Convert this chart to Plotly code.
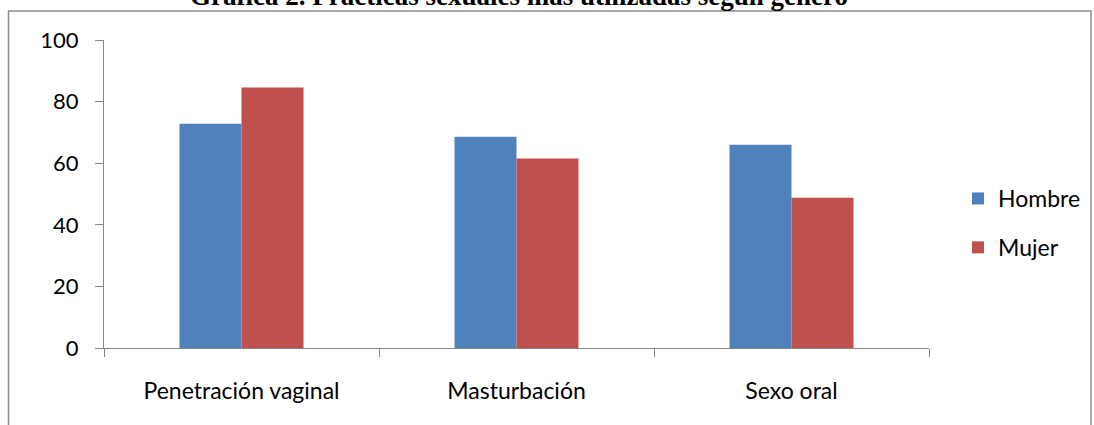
import plotly.graph_objects as go

categories = ["Penetración vaginal", "Masturbación", "Sexo oral"]
hombre = [72.8, 68.6, 66.0]
mujer = [84.6, 61.5, 48.8]
y_ticks = [0, 20, 40, 60, 80, 100]
title_text = "Gráfica 2. Prácticas sexuales más utilizadas según género"

W, H = 1094, 425
L, R, T, B = 104, 165, 40, 77
pw = W - L - R
ph = H - T - B

def px_x(p):
    return (p - L) / pw

def px_y(p):
    return (H - B - p) / ph

fig = go.Figure()
fig.add_trace(go.Bar(x=categories, y=hombre, name="Hombre",
                     marker=dict(color="#4F81BD", line=dict(width=0)),
                     legendgroup="h"))
fig.add_trace(go.Bar(x=categories, y=mujer, name="Mujer",
                     marker=dict(color="#C0504D", line=dict(width=0)),
                     legendgroup="m"))

axis_color = "#868686"
font_family = "Lato"

fig.update_layout(
    width=W, height=H,
    margin=dict(l=L, r=R, t=T, b=B, autoexpand=False),
    paper_bgcolor="white", plot_bgcolor="white",
    barmode="group", bargap=0.549, bargroupgap=0,
    font=dict(family=font_family, size=22, color="#000000"),
    showlegend=True,
    legend=dict(x=px_x(958), y=px_y(177), xanchor="left", yanchor="top",
                font=dict(family=font_family, size=23, color="#000000"),
                traceorder="grouped", tracegroupgap=16,
                bgcolor="rgba(0,0,0,0)", itemwidth=30),
    xaxis=dict(showline=True, linecolor=axis_color, linewidth=1,
               ticks="outside", tickson="boundaries", ticklen=8,
               tickcolor=axis_color, tickwidth=1,
               showgrid=False, zeroline=False,
               ticklabelstandoff=22,
               tickfont=dict(family=font_family, size=23, color="#000000")),
    yaxis=dict(range=[0, 100], tickvals=y_ticks, showline=True,
               linecolor=axis_color, linewidth=1,
               ticks="outside", ticklen=8, tickcolor=axis_color, tickwidth=1,
               showgrid=False, zeroline=False,
               ticklabelstandoff=12,
               tickfont=dict(family=font_family, size=22, color="#000000")),
)

fig.add_shape(type="rect", xref="paper", yref="paper",
              x0=px_x(8.5), x1=px_x(1091), y0=px_y(440), y1=px_y(11),
              line=dict(color="#8c8c8c", width=1.5), fillcolor="rgba(0,0,0,0)",
              layer="below")

fig.add_annotation(text="<b>" + title_text + "</b>", xref="paper", yref="paper",
                   x=px_x(518.5), y=px_y(13), xanchor="center", yanchor="bottom",
                   showarrow=False,
                   font=dict(family="Liberation Serif", size=27, color="#000000"))

fig.write_html("out.html", config={"displayModeBar": False},
               post_script="document.body.style.margin='0';document.body.style.overflow='hidden';")
